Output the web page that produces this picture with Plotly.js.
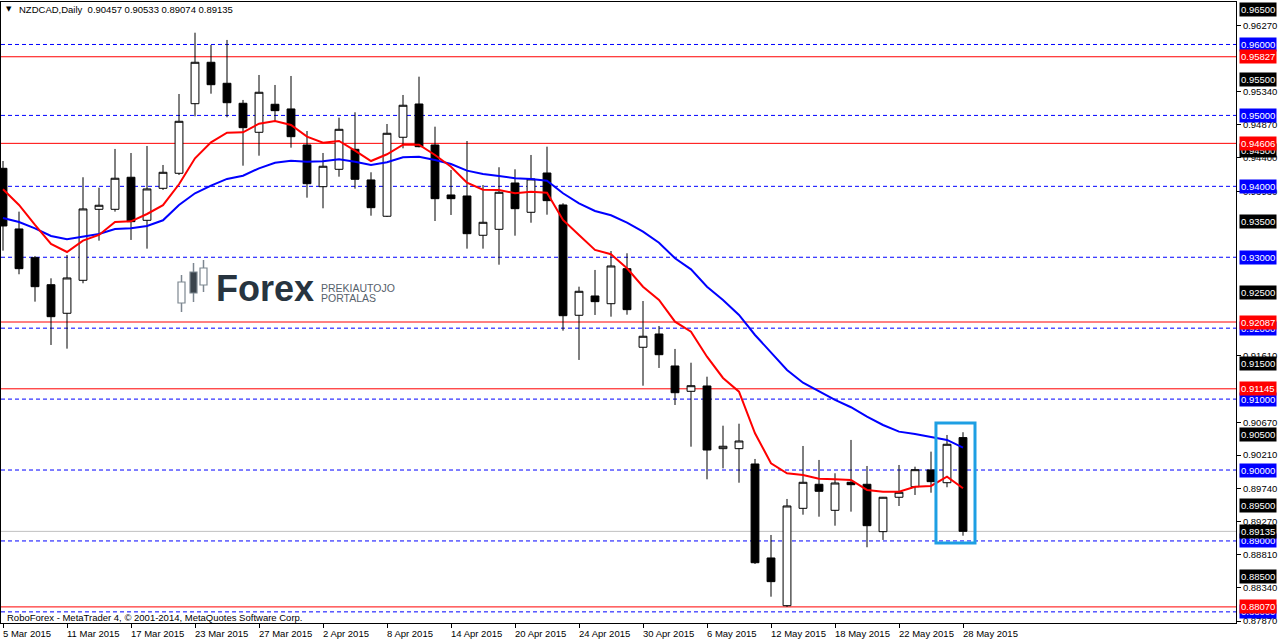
<!DOCTYPE html>
<html>
<head>
<meta charset="utf-8">
<script src="https://cdn.plot.ly/plotly-3.0.1.min.js"></script>
<style>html,body{margin:0;padding:0;background:#fff;}#chart{width:1279px;height:641px;}</style>
</head>
<body>
<div id="chart"></div>
<script>
// ---------- DATA ----------
const barDates = ['5 Mar','6 Mar','9 Mar','10 Mar','11 Mar','12 Mar','13 Mar','16 Mar','17 Mar','18 Mar','19 Mar','20 Mar','23 Mar','24 Mar','25 Mar','26 Mar','27 Mar','30 Mar','31 Mar',
'1 Apr','2 Apr','3 Apr','6 Apr','7 Apr','8 Apr','9 Apr','10 Apr','13 Apr','14 Apr','15 Apr','16 Apr','17 Apr','20 Apr','21 Apr','22 Apr','23 Apr','24 Apr','27 Apr','28 Apr','29 Apr','30 Apr',
'1 May','4 May','5 May','6 May','7 May','8 May','11 May','12 May','13 May','14 May','15 May','18 May','19 May','20 May','21 May','22 May','25 May','26 May','27 May','28 May'];

const openP = [0.94254,0.93399,0.92994,0.92613,0.92210,0.92675,0.93676,0.93676,0.94128,0.93521,
0.93972,0.94184,0.95165,0.95749,0.95453,0.95171,0.94762,0.95157,0.95091,0.94583,
0.93995,0.94240,0.94522,0.94090,0.93578,0.94692,0.95161,0.94583,0.93878,0.93864,
0.93310,0.93394,0.94047,0.93634,0.94188,0.93737,0.92182,0.92454,0.92345,0.92839,
0.91731,0.91918,0.91467,0.91110,0.91185,0.90301,0.90301,0.90085,0.88760,0.88087,
0.89460,0.89799,0.89432,0.89827,0.89799,0.89131,0.89616,0.89765,0.90001,0.89821,
0.90457];
const highP = [0.94357,0.93643,0.93018,0.92703,0.93032,0.94128,0.93981,0.94527,0.94470,0.94569,
0.94301,0.95302,0.96166,0.95993,0.96064,0.95218,0.95570,0.95429,0.95556,0.94780,
0.94470,0.94968,0.95044,0.94198,0.94879,0.95288,0.95546,0.94841,0.94231,0.94639,
0.94019,0.94269,0.94240,0.94442,0.94559,0.93761,0.92585,0.92821,0.93088,0.93056,
0.92383,0.92031,0.91707,0.91513,0.91316,0.90625,0.90653,0.90156,0.89084,0.89592,
0.90339,0.90142,0.89954,0.90424,0.90057,0.89620,0.90071,0.90047,0.90259,0.90494,
0.90533];
const lowP = [0.93093,0.92760,0.92374,0.91763,0.91711,0.92633,0.93234,0.93643,0.93244,0.93121,
0.93949,0.94160,0.94988,0.95306,0.94974,0.94291,0.94432,0.94911,0.94545,0.93840,
0.93690,0.94136,0.93967,0.93586,0.93568,0.94536,0.94550,0.93511,0.93596,0.93121,
0.93121,0.92895,0.93304,0.93487,0.93600,0.91965,0.91552,0.92186,0.92162,0.92190,
0.91189,0.91439,0.90917,0.90329,0.89869,0.90024,0.89821,0.88675,0.88214,0.88070,
0.89370,0.89342,0.89215,0.89413,0.88911,0.89014,0.89493,0.89648,0.89680,0.89757,
0.89074];
const closeP = [0.93441,0.92839,0.92585,0.92162,0.92708,0.93681,0.93733,0.94114,0.93502,0.93963,
0.94198,0.94917,0.95749,0.95433,0.95179,0.94827,0.95326,0.95067,0.94700,0.94037,
0.94283,0.94804,0.94099,0.93699,0.94748,0.95143,0.94559,0.93826,0.93826,0.93332,
0.93493,0.93916,0.93685,0.94104,0.93798,0.92176,0.92520,0.92374,0.92877,0.92261,
0.91886,0.91626,0.91090,0.91189,0.90282,0.90335,0.90409,0.88693,0.88426,0.89493,
0.89827,0.89700,0.89817,0.89793,0.89215,0.89616,0.89686,0.90005,0.89836,0.90363,
0.89135];

const maFast = [0.93958,0.93737,0.93455,0.93187,0.93074,0.93234,0.93314,0.93497,0.93507,0.93610,
0.93734,0.94029,0.94395,0.94621,0.94756,0.94762,0.94883,0.94921,0.94865,0.94700,
0.94614,0.94639,0.94503,0.94357,0.94452,0.94587,0.94587,0.94442,0.94277,0.94051,
0.93953,0.93949,0.93902,0.93925,0.93910,0.93526,0.93314,0.93103,0.93042,0.92845,
0.92585,0.92398,0.92092,0.91951,0.91598,0.91298,0.91105,0.90518,0.90095,0.89954,
0.89930,0.89878,0.89869,0.89860,0.89719,0.89695,0.89695,0.89765,0.89775,0.89906,
0.89743];
const maSlow = [0.93554,0.93497,0.93408,0.93300,0.93253,0.93290,0.93328,0.93399,0.93408,0.93441,
0.93521,0.93737,0.93902,0.94009,0.94104,0.94150,0.94254,0.94333,0.94362,0.94348,
0.94353,0.94381,0.94348,0.94301,0.94339,0.94410,0.94418,0.94371,0.94315,0.94221,
0.94174,0.94146,0.94114,0.94104,0.94080,0.93902,0.93761,0.93652,0.93592,0.93487,
0.93361,0.93205,0.92986,0.92830,0.92585,0.92398,0.92186,0.91904,0.91664,0.91411,
0.91231,0.91105,0.90988,0.90885,0.90752,0.90635,0.90541,0.90508,0.90462,0.90424,
0.90315];

const tickIdx = [0,4,8,12,16,20,24,28,32,36,40,44,48,52,56,60];
const tickLabels = ['5 Mar 2015','11 Mar 2015','17 Mar 2015','23 Mar 2015','27 Mar 2015','2 Apr 2015','8 Apr 2015','14 Apr 2015','20 Apr 2015','24 Apr 2015','30 Apr 2015','6 May 2015','12 May 2015','18 May 2015','22 May 2015','28 May 2015'];

const priceTicks = [0.96270,0.95340,0.94870,0.94400,0.93930,0.91610,0.90670,0.90210,0.89740,0.89270,0.88810,0.88340,0.87870];
const blueLevels = [0.96000,0.95000,0.94000,0.93000,0.92000,0.91000,0.90000,0.89000,0.88000];
const redLevels = [0.95827,0.94606,0.92087,0.91145,0.88070];
const blackLabels = [0.96500,0.95500,0.94500,0.93500,0.92500,0.91500,0.90500,0.89500,0.88500];
const bidLevel = 0.89135;
const titleText = 'NZDCAD,Daily  0.90457 0.90533 0.89074 0.89135';
const copyright = 'RoboForex - MetaTrader 4, \u00A9 2001-2014, MetaQuotes Software Corp.';
const boxBars = [59, 60];
const boxRange = [0.88971, 0.90663];

// ---------- LAYOUT ----------
const W = 1279, H = 641;
const M = {l:1, r:43, t:2, b:18};
const pw = W - M.l - M.r, ph = H - M.t - M.b;
const px = x => (x - M.l) / pw;
const py = y => (H - M.b - y) / ph;
const FONT = 'Liberation Sans, Arial, sans-serif';

const xIdx = barDates.map((d, i) => i);

const traces = [
  {
    type: 'candlestick', x: xIdx, open: openP, high: highP, low: lowP, close: closeP,
    increasing: {line: {color: '#000', width: 1}, fillcolor: '#ffffff'},
    decreasing: {line: {color: '#000', width: 1}, fillcolor: '#000000'},
    whiskerwidth: 0, hoverinfo: 'skip', showlegend: false
  },
  {type: 'scatter', mode: 'lines', x: xIdx, y: maSlow, line: {color: '#0000ff', width: 2}, hoverinfo: 'skip'},
  {type: 'scatter', mode: 'lines', x: xIdx, y: maFast, line: {color: '#ff0000', width: 2}, hoverinfo: 'skip'}
];

const shapes = [];
blueLevels.forEach(v => shapes.push({type: 'line', xref: 'paper', x0: 0, x1: 1, yref: 'y', y0: v, y1: v, layer: 'below', line: {color: '#0000ff', width: 1, dash: '4px,3px'}}));
redLevels.forEach(v => shapes.push({type: 'line', xref: 'paper', x0: 0, x1: 1, yref: 'y', y0: v, y1: v, layer: 'below', line: {color: '#ff0000', width: 1}}));
shapes.push({type: 'line', xref: 'paper', x0: 0, x1: 1, yref: 'y', y0: bidLevel, y1: bidLevel, layer: 'below', line: {color: '#c0c0c0', width: 1}});
shapes.push({type: 'rect', xref: 'x', yref: 'y', x0: boxBars[0] - 0.69, x1: boxBars[1] + 0.75, y0: boxRange[0], y1: boxRange[1], line: {color: '#1e9fe3', width: 3}, fillcolor: 'rgba(0,0,0,0)'});

// watermark candle icons (decoration)
function wmCandle(cx, wTop, wBot, bTop, bBot, fill) {
  shapes.push({type: 'line', xref: 'paper', yref: 'paper', x0: px(cx), x1: px(cx), y0: py(wTop), y1: py(wBot), layer: 'below', line: {color: '#7d8790', width: 1.5}});
  shapes.push({type: 'rect', xref: 'paper', yref: 'paper', x0: px(cx - 3.5), x1: px(cx + 3.5), y0: py(bTop), y1: py(bBot), layer: 'below', fillcolor: fill, line: {color: '#7d8790', width: 1.2}});
}
wmCandle(181.5, 275, 312, 282, 303, '#ffffff');
wmCandle(193.5, 263, 302, 272, 293, '#3b444c');
wmCandle(203.5, 260, 292, 268, 285, '#ffffff');

const annotations = [];
// x-axis labels (left aligned at tick)
tickIdx.forEach((i, k) => annotations.push({xref: 'x', yref: 'paper', x: i, y: 0, xanchor: 'left', yanchor: 'top', xshift: -2, yshift: -3, showarrow: false, text: tickLabels[k], font: {family: FONT, size: 9.5, color: '#000'}}));
// right side price labels
function lab(v, bg) {
  annotations.push({xref: 'paper', yref: 'y', x: 1, y: v, xanchor: 'left', yanchor: 'middle', xshift: 3, showarrow: false, text: v.toFixed(5), bgcolor: bg, borderpad: 1, font: {family: FONT, size: 9.5, color: '#fff'}});
}
blackLabels.forEach(v => lab(v, '#000000'));
blueLevels.forEach(v => lab(v, '#0000ff'));
lab(bidLevel, '#000000');
redLevels.forEach(v => lab(v, '#ff0000'));
// title
annotations.push({xref: 'paper', yref: 'paper', x: px(4), y: py(9), xanchor: 'left', yanchor: 'middle', showarrow: false, text: '\u25BC', font: {family: 'DejaVu Sans', size: 7, color: '#000'}});
annotations.push({xref: 'paper', yref: 'paper', x: px(17), y: py(9), xanchor: 'left', yanchor: 'middle', showarrow: false, text: titleText.replace('  ', '&nbsp; '), font: {family: FONT, size: 9.5, color: '#000'}});
annotations.push({xref: 'paper', yref: 'paper', x: px(5), y: py(617), xanchor: 'left', yanchor: 'middle', showarrow: false, text: copyright, font: {family: FONT, size: 9.5, color: '#000'}});
// watermark text
annotations.push({xref: 'paper', yref: 'paper', x: px(214), y: py(288), xanchor: 'left', yanchor: 'middle', showarrow: false, text: '<b>Forex</b>', font: {family: FONT, size: 36, color: '#27343f'}});
annotations.push({xref: 'paper', yref: 'paper', x: px(319), y: py(288), xanchor: 'left', yanchor: 'middle', showarrow: false, text: 'PREKIAUTOJO', font: {family: FONT, size: 10.5, color: '#56616b'}});
annotations.push({xref: 'paper', yref: 'paper', x: px(319), y: py(298), xanchor: 'left', yanchor: 'middle', showarrow: false, text: 'PORTALAS', font: {family: FONT, size: 10.5, color: '#56616b'}});

const layout = {
  width: W, height: H,
  margin: {l: M.l, r: M.r, t: M.t, b: M.b, pad: 0},
  paper_bgcolor: '#ffffff', plot_bgcolor: '#ffffff',
  showlegend: false,
  xaxis: {
    range: [(1 - 3) / 16, (1236 - 3) / 16], showgrid: false, zeroline: false,
    showline: true, mirror: true, linecolor: '#000', linewidth: 1,
    ticks: 'outside', ticklen: 4, tickcolor: '#000', tickvals: tickIdx, showticklabels: false,
    rangeslider: {visible: false}, fixedrange: true
  },
  yaxis: {
    side: 'right', range: [0.87843, 0.96599], showgrid: false, zeroline: false,
    showline: true, mirror: true, linecolor: '#000', linewidth: 1,
    ticks: 'outside', ticklen: 4, tickcolor: '#000',
    tickvals: priceTicks, ticktext: priceTicks.map(v => v.toFixed(5)),
    tickfont: {family: FONT, size: 9.5, color: '#000'}, fixedrange: true
  },
  shapes: shapes,
  annotations: annotations
};

Plotly.newPlot('chart', traces, layout, {displayModeBar: false, staticPlot: true});
</script>
</body>
</html>
